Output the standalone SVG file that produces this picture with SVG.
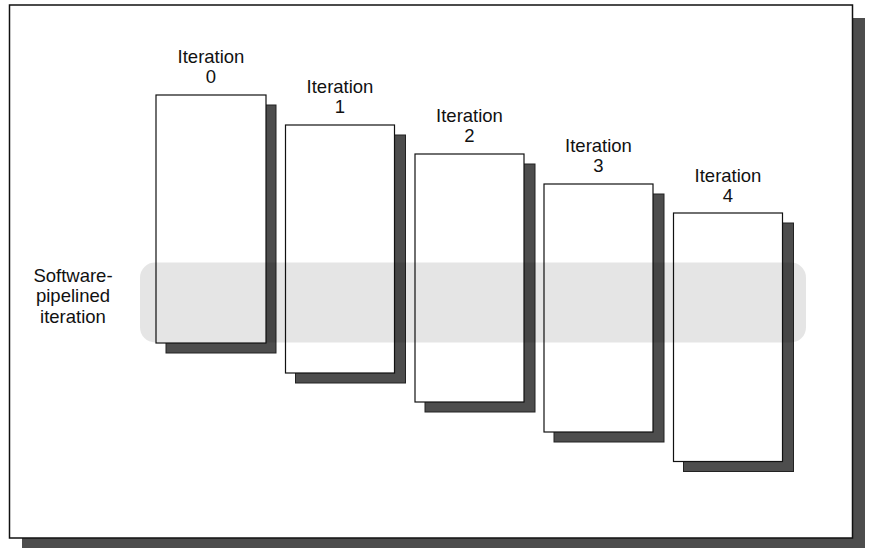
<svg xmlns="http://www.w3.org/2000/svg" width="871" height="548" viewBox="0 0 871 548">
<style>
.shadow{fill:#4d4d4d;stroke:#222;stroke-width:1}
.box{fill:#fff;stroke:#111;stroke-width:1.2}
.lbl{font-family:"Liberation Sans",Arial,sans-serif;font-size:18.5px;fill:#111;text-anchor:middle}
</style>
<rect width="871" height="548" fill="#fff"/>
<rect x="22" y="18" width="843" height="533" fill="#4d4d4d"/>
<rect x="9.5" y="5" width="843" height="533" fill="#fff" stroke="#111" stroke-width="1.5"/>
<g id="iter0">
<rect class="shadow" x="166" y="105" width="110" height="248"/>
<rect class="box" x="156" y="95" width="110" height="248"/>
<text class="lbl" x="211" y="63">Iteration</text>
<text class="lbl" x="211" y="83">0</text>
</g>
<g id="iter1">
<rect class="shadow" x="295.5" y="135" width="110" height="248"/>
<rect class="box" x="285.5" y="125" width="109" height="248"/>
<text class="lbl" x="340" y="93">Iteration</text>
<text class="lbl" x="340" y="113">1</text>
</g>
<g id="iter2">
<rect class="shadow" x="425" y="164" width="110" height="248"/>
<rect class="box" x="415" y="154" width="109" height="248"/>
<text class="lbl" x="469.5" y="122">Iteration</text>
<text class="lbl" x="469.5" y="142">2</text>
</g>
<g id="iter3">
<rect class="shadow" x="554" y="194" width="110" height="248"/>
<rect class="box" x="544" y="184" width="109" height="248"/>
<text class="lbl" x="598.5" y="152">Iteration</text>
<text class="lbl" x="598.5" y="172">3</text>
</g>
<g id="iter4">
<rect class="shadow" x="683.5" y="223" width="110" height="248.5"/>
<rect class="box" x="673.5" y="213" width="109" height="248.5"/>
<text class="lbl" x="728" y="182">Iteration</text>
<text class="lbl" x="728" y="202">4</text>
</g>
<g id="band">
<rect x="140" y="262.5" width="666" height="80" rx="15" fill="#000" fill-opacity="0.1"/>
<text class="lbl" x="73" y="282">Software-</text>
<text class="lbl" x="73" y="302">pipelined</text>
<text class="lbl" x="73" y="322.5">iteration</text>
</g>
<g id="connectors"></g>
</svg>
